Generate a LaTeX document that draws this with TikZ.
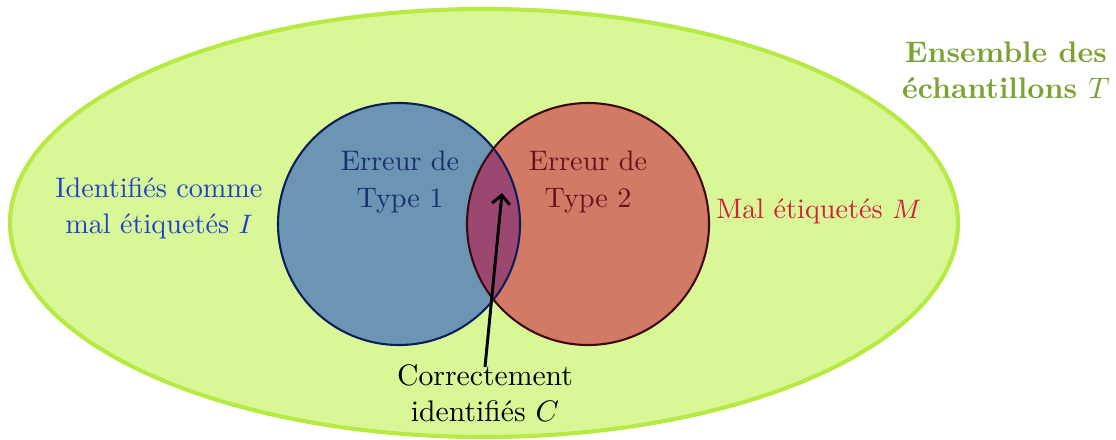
\documentclass[tikz,border=0pt]{standalone}
\usetikzlibrary{arrows.meta,shapes.geometric}
\definecolor{ellfill}{HTML}{D9F797}
\definecolor{elldraw}{HTML}{B8EA45}
\definecolor{bluefill}{HTML}{6B95B2}
\definecolor{redfill}{HTML}{D27A65}
\definecolor{lensfill}{HTML}{9B4770}
\definecolor{bluedraw}{HTML}{0A1E5A}
\definecolor{reddraw}{HTML}{3A0A10}
\definecolor{greentxt}{HTML}{79A333}
\definecolor{bluetxt}{HTML}{1F3FCC}
\definecolor{t1txt}{HTML}{1A2E6E}
\definecolor{t2txt}{HTML}{6B1020}
\definecolor{redtxt}{HTML}{D01F3F}
\begin{document}
\begin{tikzpicture}[x=0.3367pt,y=-0.3367pt,
  lbl/.style={align=center,inner sep=0pt},
  small lbl/.style={lbl,font=\fontsize{9.5}{12.2}\selectfont}]
\useasboundingbox (0,0) rectangle (1116,439);
% universe
\node[ellipse,draw=elldraw,fill=ellfill,line width=1.4pt,minimum width=948*0.3367pt,minimum height=428*0.3367pt,inner sep=0pt] (T) at (484,223) {};
% circles
\node[circle,fill=bluefill,minimum size=242*0.3367pt,inner sep=0pt] (I) at (399,224) {};
\node[circle,fill=redfill,minimum size=242*0.3367pt,inner sep=0pt] (M) at (588,224) {};
\begin{scope}
  \clip (399,224) circle[radius=121];
  \fill[lensfill] (588,224) circle[radius=121];
\end{scope}
\draw[bluedraw,line width=0.7pt] (399,224) circle[radius=121];
\draw[reddraw,line width=0.7pt] (588,224) circle[radius=121];
% labels
\node[lbl,font=\bfseries,text=greentxt] (tT) at (1006,70) {Ensemble des\\\'echantillons $T$};
\node[small lbl,text=bluetxt] (tI) at (159,208) {Identifi\'es comme\\mal \'etiquet\'es $I$};
\node[small lbl,text=t1txt] (t1) at (400,182) {Erreur de\\Type 1};
\node[small lbl,text=t2txt] (t2) at (588,182) {Erreur de\\Type 2};
\node[small lbl,text=redtxt] (tM) at (819,211) {Mal \'etiquet\'es $M$};
\node[lbl] (tC) at (485,393) {Correctement\\identifi\'es $C$};
\coordinate (lens) at (502,193);
\draw[-{Straight Barb[length=3pt,width=6pt]},line width=1pt] ([yshift=-1pt]tC.north) -- (lens);
\end{tikzpicture}
\end{document}
